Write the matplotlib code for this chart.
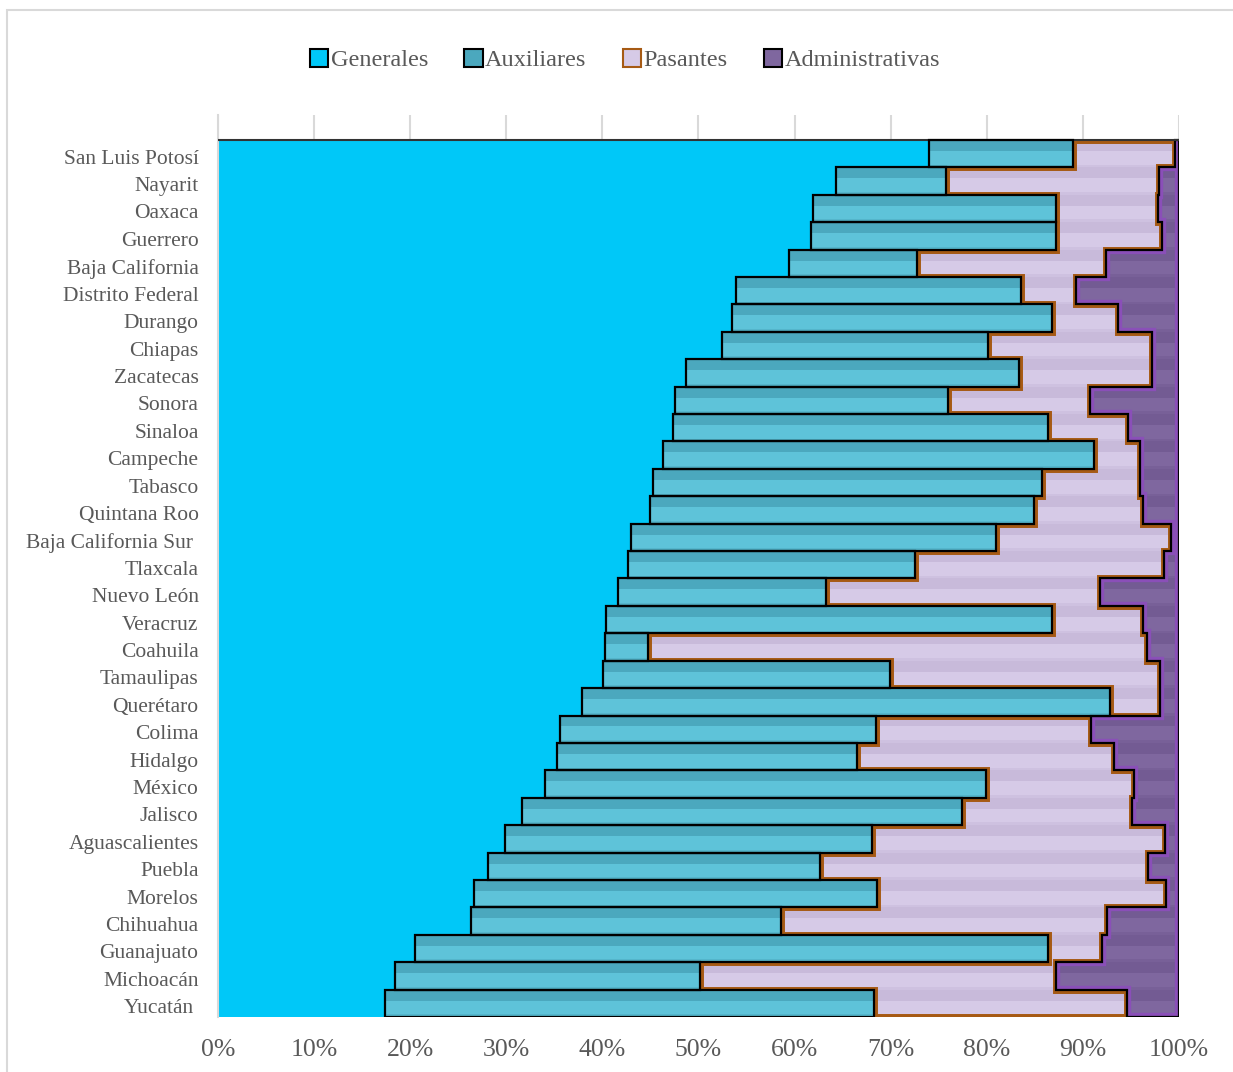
import numpy as np
import matplotlib
matplotlib.use("Agg")
import matplotlib.pyplot as plt
from matplotlib.patches import Polygon, Rectangle, Patch

estados = ["San Luis Potosí", "Nayarit", "Oaxaca", "Guerrero", "Baja California",
           "Distrito Federal", "Durango", "Chiapas", "Zacatecas", "Sonora", "Sinaloa",
           "Campeche", "Tabasco", "Quintana Roo", "Baja California Sur ", "Tlaxcala",
           "Nuevo León", "Veracruz", "Coahuila", "Tamaulipas", "Querétaro", "Colima",
           "Hidalgo", "México", "Jalisco", "Aguascalientes", "Puebla", "Morelos",
           "Chihuahua", "Guanajuato", "Michoacán", "Yucatán "]

# porcentaje de cada tipo de plaza por estado
generales = [74.0, 64.3, 61.9, 61.7, 59.4, 53.9, 53.5, 52.4, 48.7, 47.6, 47.3,
             46.3, 45.3, 45.0, 43.0, 42.7, 41.6, 40.4, 40.3, 40.1, 37.9, 35.6,
             35.3, 34.0, 31.6, 29.9, 28.1, 26.6, 26.3, 20.5, 18.4, 17.4]
auxiliares = [15.0, 11.5, 25.3, 25.5, 13.3, 29.7, 33.3, 27.7, 34.7, 28.4, 39.1,
              44.9, 40.4, 39.9, 38.0, 29.8, 21.7, 46.4, 4.4, 29.8, 54.9, 32.9,
              31.2, 45.9, 45.8, 38.2, 34.5, 42.0, 32.3, 65.9, 31.8, 50.9]
pasantes = [10.6, 22.1, 10.6, 11.0, 19.7, 5.7, 6.9, 17.1, 13.8, 14.7, 8.3,
            4.7, 10.2, 11.4, 18.2, 25.9, 28.5, 9.5, 52.0, 28.1, 5.2, 22.3,
            26.7, 15.4, 17.7, 30.4, 34.2, 30.0, 33.9, 5.6, 37.0, 26.3]
administrativas = [0.4, 2.1, 2.2, 1.8, 7.6, 10.7, 6.3, 2.8, 2.8, 9.3, 5.3,
                   4.1, 4.1, 3.7, 0.8, 1.6, 8.2, 3.7, 3.3, 2.0, 2.0, 9.2,
                   6.8, 4.7, 4.9, 1.5, 3.2, 1.4, 7.5, 8.0, 12.8, 5.4]
series = ["Generales", "Auxiliares", "Pasantes", "Administrativas"]

plt.rcParams['font.family'] = ['Liberation Serif', 'DejaVu Serif']
TXT = '#595959'

vals = np.array([generales, auxiliares, pasantes, administrativas])
vals = vals / vals.sum(axis=0) * 100
cum = np.vstack([np.zeros(len(estados)), np.cumsum(vals, axis=0)])
y = np.arange(len(estados))

fig = plt.figure(figsize=(12.33, 10.72), dpi=100)
fig.patches.append(Rectangle((7 / 1233, -0.1), 1.2, 1 - 10 / 1072 + 0.1,
                             transform=fig.transFigure, fill=False,
                             edgecolor='#D9D9D9', lw=1.5))
ax = fig.add_axes([0.1768, 0.0513, 0.7794, 0.8414])

# rellenos base y franja superior oscura (efecto bisel)
base = ['#00C8F8', '#5EC3D9', '#D6CAE7', '#7F679F']
top = ['#00C3F3', '#4BA8BE', '#C8BADA', '#735B93']
for k in range(4):
    ax.barh(y, vals[k], left=cum[k], height=1.0, color=base[k], lw=0, zorder=2)
    if k > 0:
        ax.barh(y - 0.3, vals[k], left=cum[k], height=0.4, color=top[k], lw=0, zorder=2.1)
        ax.barh(y + 0.45, vals[k], left=cum[k], height=0.1, color=top[k], lw=0,
                alpha=0.5, zorder=2.1)


def escalera(izq, der):
    pts = []
    for i in range(len(izq)):
        pts += [(izq[i], i - 0.5), (izq[i], i + 0.5)]
    for i in reversed(range(len(der))):
        pts += [(der[i], i + 0.5), (der[i], i - 0.5)]
    return pts


# contorno de la zona de pasantes
zona_p = Polygon(escalera(cum[2], cum[3]), closed=True, fill=False,
                 edgecolor='#A65A14', lw=5, zorder=3)
ax.add_patch(zona_p)
zona_p.set_clip_path(zona_p)

# contorno de la zona administrativa
zona_a = Polygon(escalera(cum[3], cum[4]), closed=True, fill=False,
                 edgecolor='#8A4FB8', lw=6, zorder=3)
ax.add_patch(zona_a)
zona_a.set_clip_path(zona_a)
ax.add_patch(Polygon(escalera(cum[3], cum[4]), closed=True, fill=False,
                     edgecolor='black', lw=1.6, zorder=3.2))

# barras de auxiliares con borde negro
ax.barh(y, vals[1], left=cum[1], height=1.0, fill=False, edgecolor='black',
        lw=1.6, zorder=4)
ax.plot([0, 100], [-0.5, -0.5], color='#333333', lw=1.5, zorder=3.5)

ax.set_xlim(0, 100)
ax.set_ylim(31.5, -1.41)
# etiquetas un poco por debajo del centro de cada fila
ax.set_yticks(y + 0.2)
ax.set_yticklabels(estados, fontsize=15.5, color=TXT, va='center')
ax.set_xticks(np.arange(0, 101, 10))
ax.set_xticklabels([f"{v}%" for v in range(0, 101, 10)], fontsize=18.5, color=TXT)
ax.tick_params(length=0)
ax.tick_params(axis='x', pad=16)
ax.tick_params(axis='y', pad=14)
ax.grid(axis='x', color='#D9D9D9', lw=1.5, zorder=0)
ax.set_axisbelow(True)
for s in ['top', 'right', 'bottom']:
    ax.spines[s].set_visible(False)
ax.spines['left'].set_color('#D9D9D9')
ax.spines['left'].set_linewidth(1.5)

handles = [Patch(facecolor=c, edgecolor='black', lw=1.5) for c in ['#00C8F8', '#4BA8BE', '#D6CAE7', '#7F679F']]
handles[2].set_edgecolor('#A65A14')
fig.legend(handles, series, loc='center', bbox_to_anchor=(0.507, 0.944), ncol=4,
           frameon=False, fontsize=17.5, handlelength=0.75, handleheight=0.8,
           handletextpad=0.1, columnspacing=1.5, labelcolor=TXT)

fig.savefig("out.png", dpi=100)
